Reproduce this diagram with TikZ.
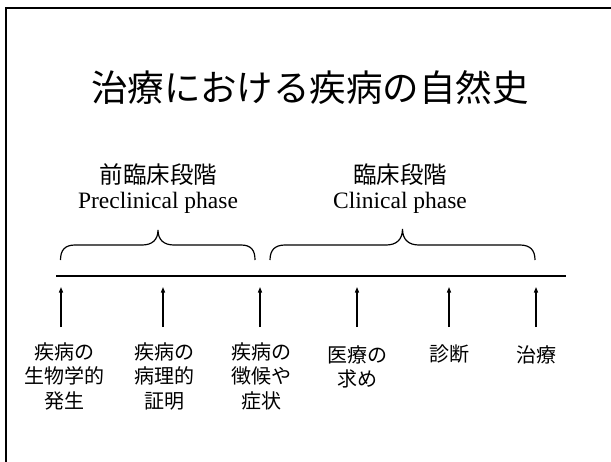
\documentclass[tikz,border=0pt]{standalone}
\usepackage{fontspec}
\setmainfont{Liberation Serif}
\newfontfamily\jp{Noto Sans CJK JP}
\usetikzlibrary{arrows.meta}
\begin{document}
\begin{tikzpicture}[x=1pt,y=-1pt,
  frameline/.style={line width=2.4pt},
  axisline/.style={line width=1.8pt},
  braceline/.style={line width=1.2pt},
  uparrow/.style={line width=1.2pt,-{Triangle[length=5.5pt,width=4pt]}},
  titletext/.style={font=\jp\fontsize{36.5}{42}\selectfont,inner sep=0pt},
  phasejp/.style={font=\jp\fontsize{23.5}{28}\selectfont,inner sep=0pt},
  phaseen/.style={font=\fontsize{23.5}{28}\selectfont,inner sep=0pt,anchor=base},
  eventlabel/.style={font=\jp\fontsize{20}{24.5}\selectfont,inner sep=0pt,align=center,anchor=north}]
\useasboundingbox (0,0) rectangle (611,461);
% frame
\draw[frameline] (6,470) -- (6,8) -- (620,8);
% title
\node[titletext] (title) at (310,88) {治療における疾病の自然史};
% phase headings
\node[phasejp] (prejp) at (158.5,175) {前臨床段階};
\node[phaseen] (preen) at (158,208) {Preclinical phase};
\node[phasejp] (clinjp) at (400,175) {臨床段階};
\node[phaseen] (clinen) at (400,208) {Clinical phase};
% braces
\draw[braceline] (60.5,260) .. controls (60.5,250) and (65,245) .. (75,245) -- (142,245)
  .. controls (152,245) and (158,240) .. (158,230)
  .. controls (158,240) and (164,245) .. (174,245) -- (241,245)
  .. controls (251,245) and (255,250) .. (255,260);
\draw[braceline] (270,260) .. controls (270,250) and (275,245) .. (285,245) -- (386,245)
  .. controls (396,245) and (402.5,240) .. (402.5,229)
  .. controls (402.5,240) and (409,245) .. (419,245) -- (520,245)
  .. controls (530,245) and (535,250) .. (535,260);
% time axis
\coordinate (axisL) at (56,276);
\coordinate (axisR) at (566,276);
\draw[axisline] (axisL) -- (axisR);
% arrows
\foreach \i/\x in {1/61,2/163,3/260,4/357,5/449,6/536}{
  \coordinate (tail\i) at (\x,327);
  \coordinate (tip\i) at (\x,287);
  \draw[uparrow] (tail\i) -- (tip\i);
}
% event labels
\node[eventlabel] (ev1) at (64.5,342) {疾病の\\生物学的\\発生};
\node[eventlabel] (ev2) at (164,342) {疾病の\\病理的\\証明};
\node[eventlabel] (ev3) at (261,342) {疾病の\\徴候や\\症状};
\node[eventlabel] (ev4) at (357.5,345) {医療の\\求め};
\node[eventlabel] (ev5) at (449,345) {診断};
\node[eventlabel] (ev6) at (536,345) {治療};
\end{tikzpicture}
\end{document}
